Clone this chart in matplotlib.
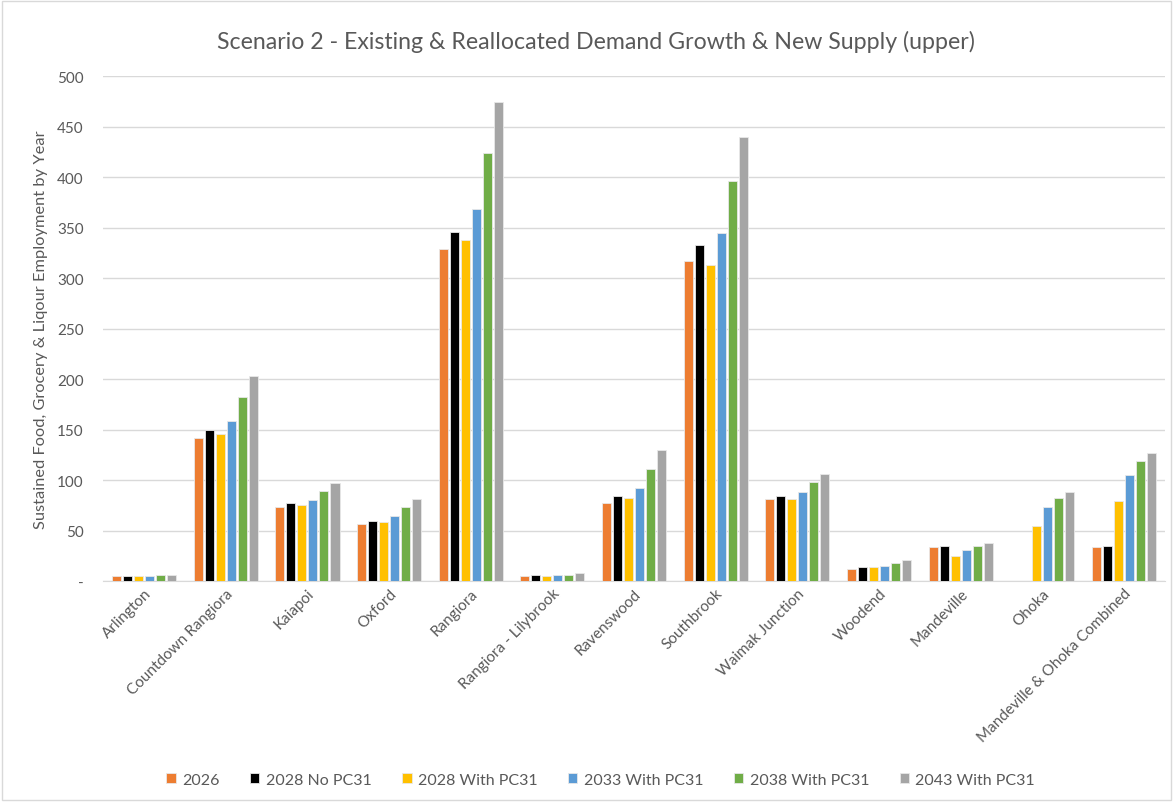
import matplotlib.pyplot as plt
import numpy as np

plt.rcParams['font.family'] = ['Lato', 'DejaVu Sans']

# categories and series
locations = ['Arlington', 'Countdown Rangiora', 'Kaiapoi', 'Oxford', 'Rangiora',
             'Rangiora - Lilybrook', 'Ravenswood', 'Southbrook', 'Waimak Junction',
             'Woodend', 'Mandeville', 'Ohoka', 'Mandeville & Ohoka Combined']

y2026 = [5, 142, 73, 57, 329, 5, 77, 317, 81, 12, 34, 0, 34]
y2028_no = [5, 150, 77, 60, 346, 6, 84, 333, 84, 14, 35, 0, 35]
y2028_with = [5, 146, 75, 59, 338, 5, 82, 313, 81, 14, 24.5, 55, 79.5]
y2033 = [5, 159, 80, 65, 368, 6, 92, 345, 88, 15, 31, 73, 105]
y2038 = [6, 182, 89, 73, 424, 6, 111, 396, 98, 18, 35, 82, 118.5]
y2043 = [6, 203, 97, 81, 474, 8, 130, 440, 106, 20.5, 38, 88, 126.5]

series_names = ['2026', '2028 No PC31', '2028 With PC31', '2033 With PC31',
                '2038 With PC31', '2043 With PC31']
series = [y2026, y2028_no, y2028_with, y2033, y2038, y2043]
colors = ['#ED7D31', '#000000', '#FFC000', '#5B9BD5', '#70AD47', '#A5A5A5']

fig = plt.figure(figsize=(11.73, 8.03), dpi=100)
ax = fig.add_axes((0.088, 0.275, 0.905, 0.629))

x = np.arange(len(locations))
step = 0.135
for i, (name, vals, c) in enumerate(zip(series_names, series, colors)):
    offset = (i - 2.5) * step
    ax.bar(x + offset, vals, width=0.112, color=c, label=name,
           edgecolor='#E8E8E8', linewidth=0.6, zorder=3)

ax.set_xlim(-0.5, len(locations) - 0.5)
ax.set_ylim(0, 500)
ax.set_yticks(np.arange(0, 501, 50))
ax.set_yticklabels(['-'] + [str(v) for v in range(50, 501, 50)])
ax.yaxis.grid(True, color='#D9D9D9', linewidth=1, zorder=0)
ax.set_axisbelow(True)

for s in ['top', 'right', 'left']:
    ax.spines[s].set_visible(False)
ax.spines['bottom'].set_color('#D9D9D9')
ax.tick_params(axis='both', length=0, colors='#595959', labelsize=11)
ax.tick_params(axis='y', pad=14)

ax.set_xticks(x)
ax.set_xticklabels(locations, rotation=45, ha='right', rotation_mode='anchor')

ax.set_ylabel('Sustained Food, Grocery & Liqour Employment by Year',
              color='#595959', fontsize=11.8)
ax.yaxis.set_label_coords(-0.052, 0.5)

fig.text(0.508, 0.948, 'Scenario 2 - Existing & Reallocated Demand Growth & New Supply (upper)',
         ha='center', va='center', fontsize=16.7, color='#595959')

leg = fig.legend(loc='center', bbox_to_anchor=(0.512, 0.028), ncol=6, frameon=False,
                 fontsize=11.5, handlelength=0.6, handleheight=0.6, handletextpad=0.4,
                 columnspacing=1.9)
for t in leg.get_texts():
    t.set_color('#595959')

# chart border
fig.patches.append(plt.Rectangle((0.002, 0.002), 0.996, 0.996, transform=fig.transFigure,
                                 fill=False, edgecolor='#D9D9D9', linewidth=1))

fig.savefig('out.png', dpi=100)
